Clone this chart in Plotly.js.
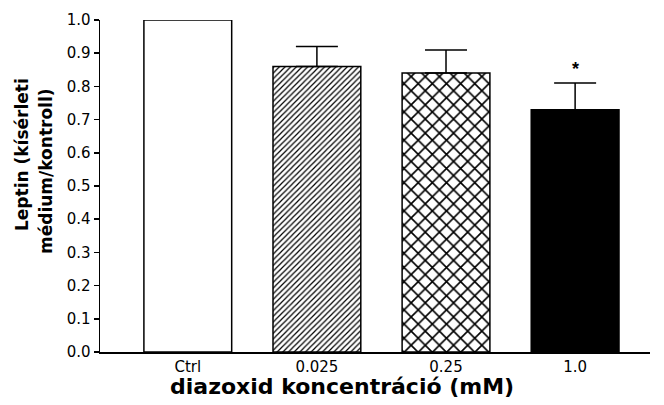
<!DOCTYPE html>
<html><head><meta charset="utf-8">
<script src="https://cdn.plot.ly/plotly-3.0.1.min.js"></script>
<style>body{margin:0;background:#fff}#c{width:664px;height:405px}</style>
</head><body><div id="c"></div>
<script>
const categories = ["Ctrl", "0.025", "0.25", "1.0"];
const values = [1.0, 0.86, 0.84, 0.73];
const errors = [0, 0.06, 0.07, 0.08];
const fills = ["#ffffff", "#ffffff", "#ffffff", "#000000"];
const patterns = ["", "/", "x", ""];
const patternSizes = [0, 4, 10, 0];
const yTicks = [0.0, 0.1, 0.2, 0.3, 0.4, 0.5, 0.6, 0.7, 0.8, 0.9, 1.0];
const sigMarks = ["", "", "", "*"];

const xIdx = categories.map((_, i) => i);
const traces = categories.map((c, i) => {
  const m = {color: fills[i], line: {color: "#000", width: 1.5}};
  if (patterns[i]) m.pattern = {shape: patterns[i], fillmode: "overlay", fgcolor: "#000", bgcolor: "#fff", size: patternSizes[i], solidity: 0.3, fgopacity: 1};
  return {
    type: "bar", x: [i], y: [values[i]], width: 0.68, marker: m,
    error_y: {type: "data", symmetric: false, array: [errors[i]], arrayminus: [0],
              color: "#000", thickness: 1.5, width: 21, visible: errors[i] > 0},
    hoverinfo: "none"
  };
});
const anns = [];
sigMarks.forEach((s, i) => {
  if (s) anns.push({x: i, y: values[i] + errors[i] + 0.042, xref: "x", yref: "y", text: "<b>" + s + "</b>",
    showarrow: false, font: {family: "Liberation Sans", size: 18, color: "#000"}});
});
anns.push({xref: "paper", yref: "paper", x: (342 - 100) / 550, y: -34 / 332, xanchor: "center", yanchor: "middle",
  text: "<b>diazoxid koncentráció (mM)</b>", showarrow: false,
  font: {family: "DejaVu Sans", size: 22, color: "#000"}});
anns.push({xref: "paper", yref: "paper", x: (22 - 100) / 550, y: (352 - 155) / 332, xanchor: "center", yanchor: "middle",
  text: "<b>Leptin (kísérleti</b>", textangle: -90, showarrow: false,
  font: {family: "DejaVu Sans", size: 17, color: "#000"}});
anns.push({xref: "paper", yref: "paper", x: (46 - 100) / 550, y: (352 - 171) / 332, xanchor: "center", yanchor: "middle",
  text: "<b>médium/kontroll)</b>", textangle: -90, showarrow: false,
  font: {family: "DejaVu Sans", size: 17, color: "#000"}});

const layout = {
  width: 664, height: 405,
  margin: {l: 100, r: 14, t: 20, b: 53},
  paper_bgcolor: "#fff", plot_bgcolor: "#fff",
  showlegend: false, barmode: "overlay",
  xaxis: {
    range: [-0.68, 3.58], tickvals: xIdx, ticktext: categories,
    showline: true, linecolor: "#000", linewidth: 1.5, ticks: "", showgrid: false, zeroline: false,
    tickfont: {family: "DejaVu Sans", size: 15, color: "#000"}
  },
  yaxis: {
    range: [0, 1.0], tickvals: yTicks, ticktext: yTicks.map(v => v.toFixed(1)),
    showline: true, linecolor: "#000", linewidth: 1.5, ticks: "outside", ticklen: 5, tickwidth: 1.5, tickcolor: "#000",
    showgrid: false, zeroline: false,
    tickfont: {family: "DejaVu Sans", size: 15, color: "#000"}
  },
  annotations: anns
};
Plotly.newPlot("c", traces, layout, {displayModeBar: false, staticPlot: true});
</script></body></html>
